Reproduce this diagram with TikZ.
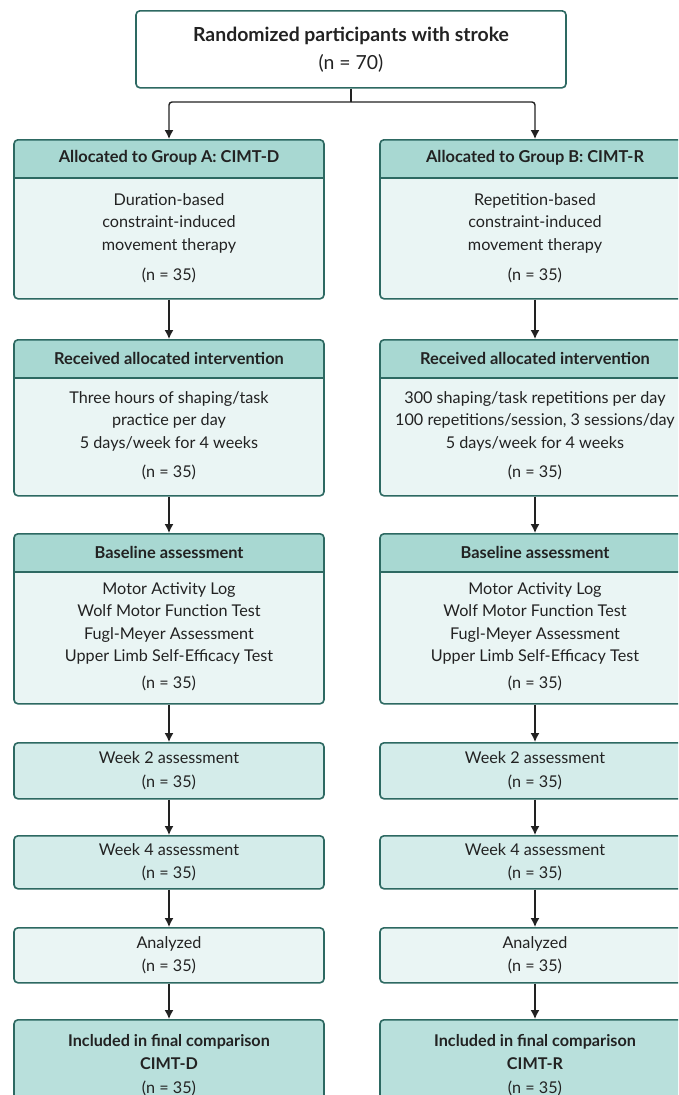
\documentclass[tikz,border=0pt]{standalone}
\usepackage{fontspec}
\setmainfont{Lato}
\usetikzlibrary{arrows.meta}
\definecolor{edgecol}{HTML}{2D6962}
\definecolor{headcol}{HTML}{A8D8D2}
\definecolor{bodycol}{HTML}{EAF5F4}
\definecolor{weekcol}{HTML}{D4ECEA}
\definecolor{finalcol}{HTML}{B9E0DC}
\definecolor{inkcol}{HTML}{222222}
\tikzset{
  box/.style={draw=edgecol, line width=1.6pt, rounded corners=4pt, fill=bodycol,
    minimum width=310, anchor=north, inner sep=0pt, text=inkcol, align=center,
    font=\fontsize{16.2}{23.5}\selectfont},
  headbox/.style={box, path picture={
      \fill[headcol, sharp corners] (path picture bounding box.north west) rectangle ([yshift=-38pt]path picture bounding box.north east);
      \draw[edgecol, line width=1.6pt, sharp corners] ([yshift=-38pt]path picture bounding box.north west) -- ([yshift=-38pt]path picture bounding box.north east);}},
  headtext/.style={font=\fontsize{16.4}{19}\selectfont\bfseries, text=inkcol},
  bodytext/.style={align=center, font=\fontsize{16.2}{22.6}\selectfont, text=inkcol},
  arr/.style={-{Latex[length=9pt,width=9pt]}, line width=1.4pt, draw=inkcol},
}
\begin{document}
\begin{tikzpicture}[x=1pt, y=-1pt]
  \useasboundingbox (0,0) rectangle (678,1095);
  \clip (0,0) rectangle (678,1095);
  \fill[white] (0,0) rectangle (678,1095);

  % randomisation
  \node[box, fill=white, minimum width=430, minimum height=77,
        font=\fontsize{19.4}{28}\selectfont] (rand) at (351,10)
        {\bfseries Randomized participants with stroke\\(n = 70)};

  % group A
  \node[headbox, minimum height=159] (allocA) at (169,139) {};
  \node[headtext] (allocA-h) at (169,158) {Allocated to Group A: CIMT-D};
  \node[bodytext] (allocA-b) at (169,238) {Duration-based\\constraint-induced\\movement therapy\\[7pt](n = 35)};

  \node[headbox, minimum height=156] (recvA) at (169,339) {};
  \node[headtext] (recvA-h) at (169,358) {Received allocated intervention};
  \node[bodytext] (recvA-b) at (169,435.5) {Three hours of shaping/task\\practice per day\\5 days/week for 4 weeks\\[6pt](n = 35)};

  % group B
  \node[headbox, minimum height=159] (allocB) at (535,139) {};
  \node[headtext] (allocB-h) at (535,158) {Allocated to Group B: CIMT-R};
  \node[bodytext] (allocB-b) at (535,238) {Repetition-based\\constraint-induced\\movement therapy\\[7pt](n = 35)};

  \node[headbox, minimum height=156] (recvB) at (535,339) {};
  \node[headtext] (recvB-h) at (535,358) {Received allocated intervention};
  \node[bodytext] (recvB-b) at (535,435.5) {300 shaping/task repetitions per day\\100 repetitions/session, 3 sessions/day\\5 days/week for 4 weeks\\[6pt](n = 35)};

  % same stages in both arms
  \foreach \g/\x in {A/169, B/535} {
    \node[headbox, minimum height=170] (base\g) at (\x,533) {};
    \node[headtext] (base\g-h) at (\x,552) {Baseline assessment};
    \node[bodytext] (base\g-b) at (\x,636.5) {Motor Activity Log\\Wolf Motor Function Test\\Fugl-Meyer Assessment\\Upper Limb Self-Efficacy Test\\[4pt](n = 35)};
    \node[box, fill=weekcol, minimum height=56] (wkII\g) at (\x,742) {Week 2 assessment\\(n = 35)};
    \node[box, fill=weekcol, minimum height=53] (wkIV\g) at (\x,835) {Week 4 assessment\\(n = 35)};
    \node[box, minimum height=55] (ana\g) at (\x,927) {Analyzed\\(n = 35)};
  }
  \node[box, fill=finalcol, minimum height=90] (finA) at (169,1019)
    {\bfseries Included in final comparison\\\bfseries CIMT-D\\(n = 35)};
  \node[box, fill=finalcol, minimum height=90] (finB) at (535,1019)
    {\bfseries Included in final comparison\\\bfseries CIMT-R\\(n = 35)};

  % connectors
  \coordinate (split) at (351,102);
  \draw[line width=1.4pt, draw=inkcol] (rand.south) -- (split);
  \draw[arr, rounded corners=3pt] (split) -| (allocA.north);
  \draw[arr, rounded corners=3pt] (split) -| (allocB.north);
  \foreach \g in {A,B}
    \foreach \u/\v in {alloc/recv, recv/base, base/wkII, wkII/wkIV, wkIV/ana, ana/fin}
      \draw[arr] (\u\g.south) -- (\v\g.north);
\end{tikzpicture}
\end{document}
